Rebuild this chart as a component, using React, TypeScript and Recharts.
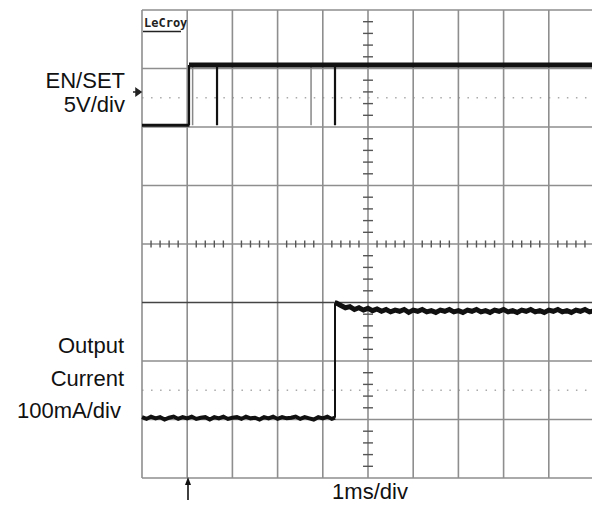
import React from "react";
import { LineChart, Line, XAxis, YAxis, ReferenceLine } from "recharts";

// scope screen: 10 x 8 divisions, 1ms/div horizontally
const X_DIVS = [0, 1, 2, 3, 4, 5, 6, 7, 8, 9, 10];
const Y_DIVS = [0, 1, 2, 3, 4, 5, 6, 7, 8];
const DOTTED_LEVELS = [6.5, 1.5];

// EN/SET (5V/div), levels in divisions
const enLowTime = [0, 1.05];
const enLowLevel = [6.03, 6.03];
const enHighTime = [1.04, 10];
const enHighLevel = [7.06, 7.06];
const enEdgeTime = [1.04, 1.04, 1.04, 1.66, 1.66, 1.66, 4.27, 4.27];
const enEdgeLevel = [6.03, 7.06, null, 7.06, 6.03, null, 7.06, 6.03];
const enFaintTime = [1.12, 1.12, 1.12, 3.74, 3.74];
const enFaintLevel = [7.06, 6.03, null, 7.06, 6.03];

// Output current (100mA/div)
const curLowTime = [
  0, 0.1, 0.2, 0.3, 0.4, 0.5, 0.6, 0.7, 0.8, 0.9, 1.0, 1.1, 1.2, 1.3, 1.4, 1.5, 1.6, 1.7, 1.8, 1.9, 2.0, 2.1,
  2.2, 2.3, 2.4, 2.5, 2.6, 2.7, 2.8, 2.9, 3.0, 3.1, 3.2, 3.3, 3.4, 3.5, 3.6, 3.7, 3.8, 3.9, 4.0, 4.1, 4.2, 4.27,
];
const curLowLevel = [
  1.04, 1.01, 1.05, 1.02, 1.04, 1.0, 1.03, 1.05, 1.01, 1.04, 1.02, 1.05, 1.01, 1.03, 1.04, 1.0, 1.04, 1.02, 1.05, 1.01, 1.03, 1.04,
  1.01, 1.05, 1.02, 1.03, 1.0, 1.04, 1.02, 1.05, 1.01, 1.04, 1.02, 1.03, 1.05, 1.01, 1.04, 1.02, 1.0, 1.04, 1.02, 1.05, 1.01, 1.03,
];
const curEdgeTime = [4.27, 4.27];
const curEdgeLevel = [1.03, 2.99];
const curHighTime = [
  4.27, 4.3, 4.4, 4.5, 4.6, 4.7, 4.8, 4.9, 5.0, 5.1, 5.2, 5.3, 5.4, 5.5, 5.6, 5.7, 5.8, 5.9, 6.0, 6.1, 6.2, 6.3, 6.4, 6.5, 6.6, 6.7,
  6.8, 6.9, 7.0, 7.1, 7.2, 7.3, 7.4, 7.5, 7.6, 7.7, 7.8, 7.9, 8.0, 8.1, 8.2, 8.3, 8.4, 8.5, 8.6, 8.7, 8.8, 8.9, 9.0, 9.1, 9.2,
  9.3, 9.4, 9.5, 9.6, 9.7, 9.8, 9.9, 10.0,
];
const curHighLevel = [
  2.99, 2.99, 2.95, 2.91, 2.93, 2.88, 2.91, 2.87, 2.9, 2.86, 2.89, 2.85, 2.88, 2.84, 2.87, 2.85, 2.88, 2.83, 2.87, 2.85, 2.88, 2.84,
  2.86, 2.83, 2.87, 2.85, 2.88, 2.84, 2.86, 2.83, 2.87, 2.85, 2.88, 2.84, 2.86, 2.83, 2.87, 2.85, 2.88, 2.84, 2.86, 2.83, 2.87,
  2.85, 2.88, 2.84, 2.86, 2.83, 2.87, 2.85, 2.88, 2.84, 2.86, 2.83, 2.87, 2.85, 2.88, 2.84, 2.86,
];

const pts = (t: number[], v: (number | null)[]) => t.map((x, i) => ({ t: x, v: v[i] }));

// minor ticks on the centre cross, every 1/5 division
const hTicks = Array.from({ length: 49 }, (_, i) => (i + 1) / 5).filter((x) => Math.abs(x - Math.round(x)) > 0.01);
const vTicks = Array.from({ length: 39 }, (_, i) => (i + 1) / 5).filter((y) => Math.abs(y - Math.round(y)) > 0.01);

const GRID = "#8e8e8e";
const FONT = "'Liberation Sans', Arial, sans-serif";

export default function App() {
  return (
    <div style={{ position: "absolute", left: 0, top: 0, width: 592, height: 507, overflow: "hidden", background: "#fff" }}>
      <LineChart width={600} height={507} margin={{ top: 10, left: 142, right: 6, bottom: 29 }}>
        <XAxis dataKey="t" type="number" domain={[0, 10]} hide />
        <YAxis type="number" domain={[0, 8]} hide />
        {DOTTED_LEVELS.map((y) => (
          <ReferenceLine key={"d" + y} y={y} stroke="#aaa" strokeWidth={1.5} strokeDasharray="1.5 7.54" />
        ))}
        {X_DIVS.map((x) => (
          <ReferenceLine key={"x" + x} x={x} stroke={GRID} strokeWidth={1.6} />
        ))}
        {Y_DIVS.map((y) => (
          <ReferenceLine key={"y" + y} y={y} stroke={y === 3 ? "#444" : GRID} strokeWidth={y === 3 ? 1.4 : 1.6} />
        ))}
        {hTicks.map((x) => (
          <ReferenceLine key={"ht" + x} segment={[{ x, y: 3.94 }, { x, y: 4.06 }]} stroke="#555" strokeWidth={1.4} />
        ))}
        {vTicks.map((y) => (
          <ReferenceLine key={"vt" + y} segment={[{ x: 4.89, y }, { x: 5.11, y }]} stroke="#555" strokeWidth={1.4} />
        ))}
        <Line data={pts(enFaintTime, enFaintLevel)} dataKey="v" stroke="#888" strokeWidth={1.5} dot={false} isAnimationActive={false} />
        <Line data={pts(enLowTime, enLowLevel)} dataKey="v" stroke="#111" strokeWidth={3} dot={false} isAnimationActive={false} />
        <Line data={pts(enHighTime, enHighLevel)} dataKey="v" stroke="#111" strokeWidth={5} dot={false} isAnimationActive={false} />
        <Line data={pts(enEdgeTime, enEdgeLevel)} dataKey="v" stroke="#111" strokeWidth={2.2} dot={false} isAnimationActive={false} />
        <Line data={pts(curLowTime, curLowLevel)} dataKey="v" stroke="#111" strokeWidth={4} dot={false} isAnimationActive={false} />
        <Line data={pts(curEdgeTime, curEdgeLevel)} dataKey="v" stroke="#111" strokeWidth={2} dot={false} isAnimationActive={false} />
        <Line data={pts(curHighTime, curHighLevel)} dataKey="v" stroke="#111" strokeWidth={5} dot={false} isAnimationActive={false} />
      </LineChart>
      <svg width={592} height={507} style={{ position: "absolute", left: 0, top: 0, pointerEvents: "none" }}>
        <g fontFamily={FONT} fontSize={22} fill="#111" textAnchor="end">
          <text x={125} y={88}>EN/SET</text>
          <text x={125} y={112}>5V/div</text>
          <text x={124} y={353}>Output</text>
          <text x={124} y={386}>Current</text>
          <text x={121} y={418}>100mA/div</text>
        </g>
        <text x={370} y={499} fontFamily={FONT} fontSize={22} fill="#111" textAnchor="middle">1ms/div</text>
        <text x={144} y={27} fontFamily="'DejaVu Sans Mono', monospace" fontWeight="bold" fontSize={12} fill="#222">LeCroy</text>
        <line x1={143} y1={31.5} x2={181} y2={31.5} stroke="#222" strokeWidth={1.5} />
        <path d="M133 92 L140 92 M136 88.5 L141 92 L136 95.5 Z" stroke="#222" strokeWidth={1.5} fill="#222" />
        <line x1={188} y1={482} x2={188} y2={500} stroke="#111" strokeWidth={1.6} />
        <path d="M185 485 L188 477 L191 485 Z" fill="#111" />
      </svg>
    </div>
  );
}
